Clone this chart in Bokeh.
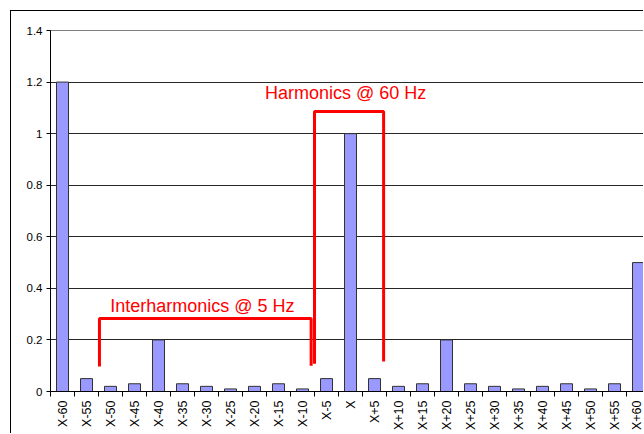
import math
from bokeh.plotting import figure
from bokeh.models import Range1d, FixedTicker, ColumnDataSource, Label
from bokeh.embed import file_html
from bokeh.resources import INLINE

categories = ["X-60", "X-55", "X-50", "X-45", "X-40", "X-35", "X-30", "X-25",
              "X-20", "X-15", "X-10", "X-5", "X", "X+5", "X+10", "X+15",
              "X+20", "X+25", "X+30", "X+35", "X+40", "X+45", "X+50", "X+55", "X+60"]
values = [1.2, 0.05, 0.02, 0.03, 0.2, 0.03, 0.02, 0.01, 0.02, 0.03, 0.01, 0.05,
          1.0, 0.05, 0.02, 0.03, 0.2, 0.03, 0.02, 0.01, 0.02, 0.03, 0.01, 0.03, 0.5]
y_ticks = [0, 0.2, 0.4, 0.6, 0.8, 1.0, 1.2, 1.4]
y_tick_labels = ["0", "0.2", "0.4", "0.6", "0.8", "1", "1.2", "1.4"]

# annotation brackets (x in category-index units, y in data units)
inter_x = [1.54, 1.54, 10.36, 10.36]
inter_y = [0.097, 0.283, 0.283, 0.10]
harm_x = [10.5, 10.5, 13.38, 13.38]
harm_y = [0.108, 1.086, 1.086, 0.116]

idx = list(range(len(categories)))
src = ColumnDataSource(dict(x=idx, top=values))

p = figure(width=633, height=423, output_backend="svg", toolbar_location=None,
           x_range=Range1d(-0.5, len(categories) - 0.75), y_range=Range1d(0, 1.4),
           min_border_left=39, min_border_right=0, min_border_top=19, min_border_bottom=43)
p.styles = {"margin-left": "10px", "margin-top": "10px",
            "border-top": "1px solid #000", "border-left": "1px solid #000"}
p.background_fill_color = "white"
p.outline_line_color = "#808080"

p.vbar(x="x", top="top", width=0.5, source=src, fill_color="#9999FF",
       line_color="#333333", line_width=1)

p.line(inter_x, inter_y, line_color="#FF0000", line_width=3)
p.line(harm_x, harm_y, line_color="#FF0000", line_width=3)

p.add_layout(Label(x=5.83, y=0.333, text="Interharmonics @ 5 Hz", text_align="center",
                   text_baseline="middle", text_color="#FF0000", text_font="Liberation Sans",
                   text_font_size="18px"))
p.add_layout(Label(x=11.8, y=1.156, text="Harmonics @ 60 Hz", text_align="center",
                   text_baseline="middle", text_color="#FF0000", text_font="Liberation Sans",
                   text_font_size="18px"))

p.xgrid.grid_line_color = None
p.ygrid.ticker = FixedTicker(ticks=y_ticks)
p.ygrid.grid_line_color = "#000000"
p.ygrid.grid_line_alpha = 0.85

p.yaxis.ticker = FixedTicker(ticks=y_ticks)
p.yaxis.major_label_overrides = {t: l for t, l in zip(y_ticks, y_tick_labels)}
p.yaxis.major_tick_out = 4
p.yaxis.major_tick_in = 0
p.yaxis.minor_tick_line_color = None
p.yaxis.axis_line_color = "#000000"
p.yaxis.major_label_text_font = "Liberation Sans"
p.yaxis.major_label_text_font_size = "11.5px"
p.yaxis.major_label_text_color = "#000000"
p.yaxis.major_label_standoff = 4

p.xaxis.ticker = FixedTicker(ticks=idx, minor_ticks=[i - 0.5 for i in range(len(categories) + 1)])
p.xaxis.major_label_overrides = {i: c for i, c in zip(idx, categories)}
p.xaxis.major_tick_out = 0
p.xaxis.major_tick_in = 0
p.xaxis.minor_tick_out = 5
p.xaxis.minor_tick_in = 0
p.xaxis.minor_tick_line_color = "#000000"
p.xaxis.axis_line_color = "#000000"
p.xaxis.major_label_orientation = math.pi / 2
p.xaxis.major_label_text_font = "Liberation Sans"
p.xaxis.major_label_text_font_size = "12.5px"
p.xaxis.major_label_text_color = "#000000"
p.xaxis.major_label_standoff = 4

open("out.html", "w").write(file_html(p, INLINE))
